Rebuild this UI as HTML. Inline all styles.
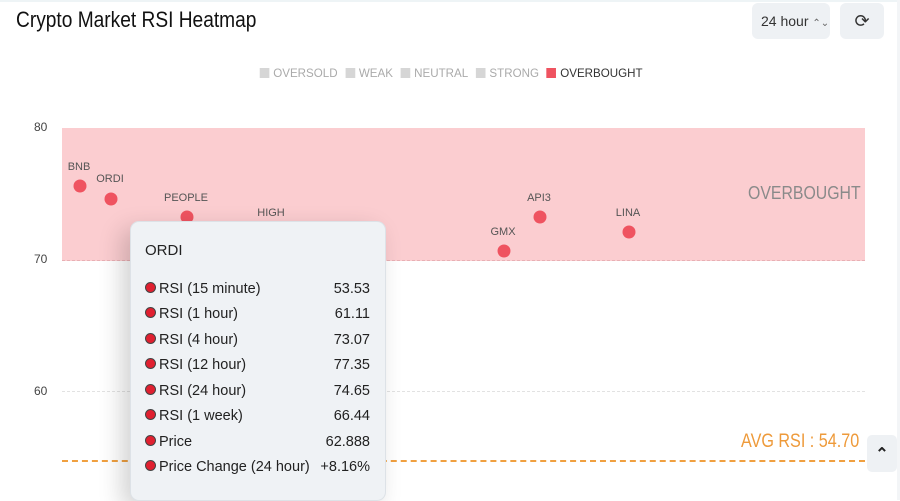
<!DOCTYPE html>
<html><head><style>
body{margin:0;width:900px;height:500px;overflow:hidden;background:#fff;font-family:"Liberation Sans",sans-serif;position:relative}
.a{position:absolute}
.lab{position:absolute;font-size:11px;color:#555;transform:translateX(-50%)}
.dot{position:absolute;width:13px;height:13px;border-radius:50%;background:#ef5360;transform:translate(-50%,-50%)}
.row{position:absolute;left:145px;width:225px;font-size:14.5px;color:#222}
.row i{display:inline-block;width:9px;height:9px;border-radius:50%;background:#e02030;border:1px solid #444;margin-right:3px;vertical-align:0px}
.row b{float:right;font-weight:normal}
.lg{display:inline-block;width:10px;height:10px;background:#d6d6d6;margin:0 4px 0 8px;vertical-align:-1px}
.cx{transform-origin:left top}
</style></head><body>
<div class="a" style="left:0;top:0;width:900px;height:2px;background:#eef4f6"></div>
<div class="a" style="left:897px;top:0;width:3px;height:500px;background:#f3f5f7"></div>
<div class="a cx" style="left:16px;top:7px;font-size:22px;color:#111;transform:scaleX(.87)">Crypto Market RSI Heatmap</div>
<div class="a" style="left:752px;top:3px;width:78px;height:36px;background:#eef1f4;border-radius:6px;font-size:14px;color:#333;line-height:36px;text-indent:9px">24 hour <span style="font-size:10px;color:#666">⌃⌄</span></div>
<div class="a" style="left:840px;top:3px;width:44px;height:36px;background:#eef1f4;border-radius:6px;font-size:18px;color:#333;line-height:36px;text-align:center">⟳</div>
<div class="a cx" style="left:252px;top:66px;font-size:12px;color:#aaa;transform:scaleX(.965)"><span class="lg"></span>OVERSOLD<span class="lg"></span>WEAK<span class="lg"></span>NEUTRAL<span class="lg"></span>STRONG<span class="lg" style="background:#ef5360"></span><span style="color:#333">OVERBOUGHT</span></div>
<div class="a" style="left:62px;top:128px;width:803px;height:132px;background:#fbcdd0;border-bottom:1px dashed #e8b0b4"></div>
<div class="a cx" style="left:748px;top:183px;font-size:18px;color:#8a8a8a;transform:scaleX(.88)">OVERBOUGHT</div>
<div class="a" style="left:34px;top:120px;font-size:12px;color:#444">80</div>
<div class="a" style="left:34px;top:252px;font-size:12px;color:#444">70</div>
<div class="a" style="left:34px;top:384px;font-size:12px;color:#444">60</div>
<div class="a" style="left:62px;top:391px;width:803px;border-top:1px dashed #e2e2e2"></div>
<div class="a" style="left:62px;top:460px;width:803px;border-top:2px dashed #f0a040"></div>
<div class="a cx" style="left:741px;top:431px;font-size:19px;color:#ee9a3a;transform:scaleX(.85)">AVG RSI : 54.70</div>
<div class="a" style="left:867px;top:435px;width:30px;height:37px;background:#eef1f4;border-radius:5px;font-size:16px;font-weight:bold;color:#222;text-align:center;line-height:40px">&#8963;</div>
<div class="dot" style="left:80px;top:186px"></div><div class="lab" style="left:79px;top:161px">BNB</div>
<div class="dot" style="left:111px;top:199px"></div><div class="lab" style="left:110px;top:173px">ORDI</div>
<div class="dot" style="left:187px;top:217px"></div><div class="lab" style="left:186px;top:192px">PEOPLE</div>
<div class="lab" style="left:271px;top:207px">HIGH</div>
<div class="dot" style="left:504px;top:251px"></div><div class="lab" style="left:503px;top:226px">GMX</div>
<div class="dot" style="left:540px;top:217px"></div><div class="lab" style="left:539px;top:192px">API3</div>
<div class="dot" style="left:629px;top:232px"></div><div class="lab" style="left:628px;top:207px">LINA</div>
<div class="a" style="left:130px;top:221px;width:254px;height:278px;background:#eff2f5;border:1px solid #dde2e7;border-radius:9px;box-shadow:-8px 8px 24px rgba(0,0,0,.18)"></div>
<div class="a" style="left:145px;top:242px;font-size:15px;color:#222">ORDI</div>
<div class="row" style="top:281px"><i></i>RSI (15 minute)<b>53.53</b></div>
<div class="row" style="top:306px"><i></i>RSI (1 hour)<b>61.11</b></div>
<div class="row" style="top:332px"><i></i>RSI (4 hour)<b>73.07</b></div>
<div class="row" style="top:357px"><i></i>RSI (12 hour)<b>77.35</b></div>
<div class="row" style="top:383px"><i></i>RSI (24 hour)<b>74.65</b></div>
<div class="row" style="top:408px"><i></i>RSI (1 week)<b>66.44</b></div>
<div class="row" style="top:434px"><i></i>Price<b>62.888</b></div>
<div class="row" style="top:459px"><i></i>Price Change (24 hour)<b>+8.16%</b></div>
</body></html>
